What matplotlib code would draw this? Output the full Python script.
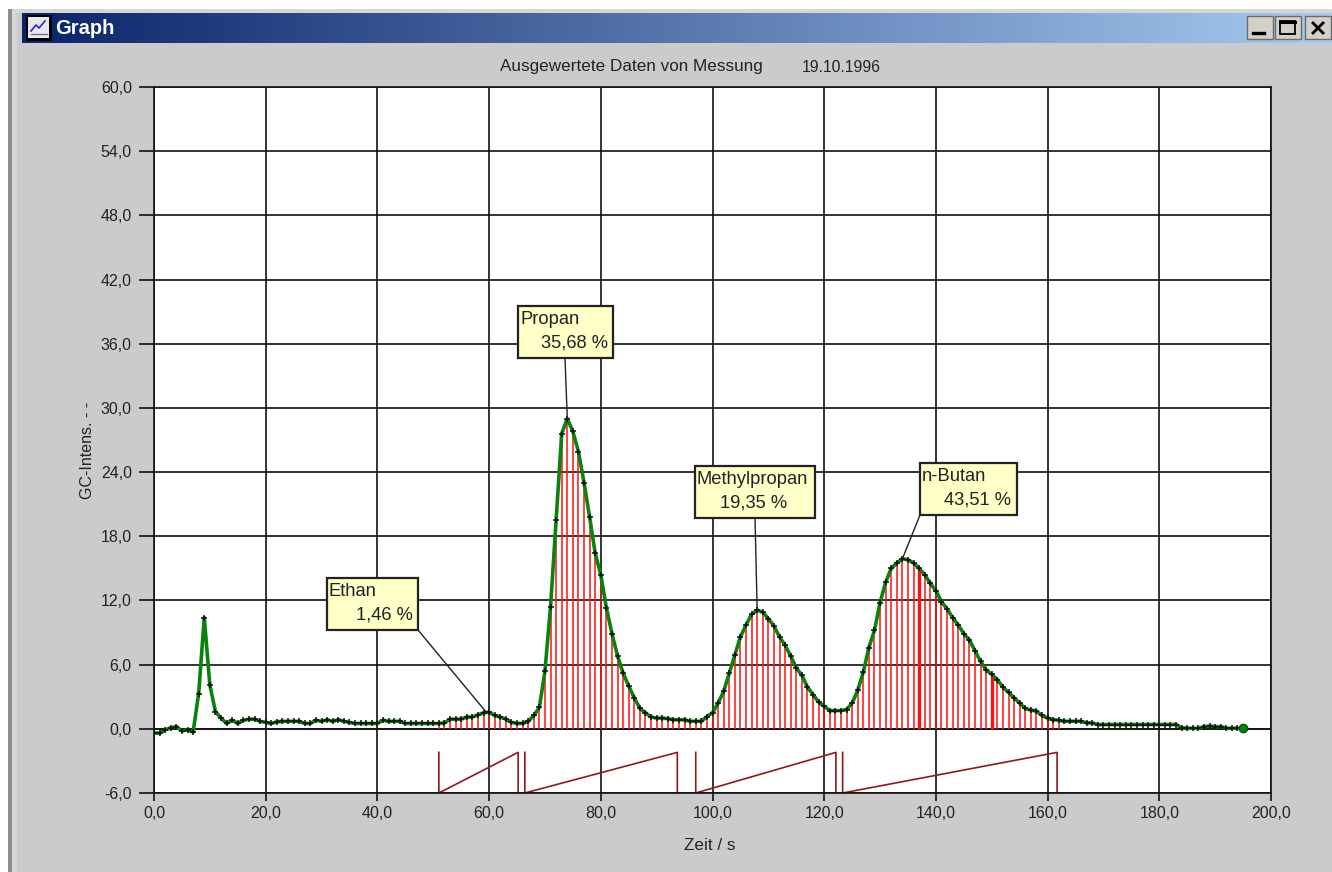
# -*- coding: utf-8 -*-
import matplotlib
matplotlib.use("Agg")
import matplotlib.pyplot as plt
import matplotlib.patches as mpatches
import numpy as np
from matplotlib.ticker import FuncFormatter, MultipleLocator

plt.rcParams['font.family'] = ['Liberation Sans', 'DejaVu Sans']

W, H = 1332, 872

# one sample per second, 0..195
signal = [
    -0.4, -0.4, -0.1, 0.1, 0.2, -0.2, -0.1, -0.3, 3.3, 10.4,
    4.1, 1.6, 1.0, 0.5, 0.8, 0.5, 0.8, 0.9, 0.9, 0.7,
    0.6, 0.5, 0.65, 0.7, 0.7, 0.7, 0.7, 0.5, 0.5, 0.8,
    0.7, 0.85, 0.7, 0.85, 0.7, 0.6, 0.5, 0.5, 0.5, 0.5,
    0.5, 0.8, 0.7, 0.7, 0.7, 0.5, 0.5, 0.5, 0.5, 0.5,
    0.5, 0.5, 0.55, 0.9, 0.9, 0.9, 1.1, 1.1, 1.3, 1.5,
    1.55, 1.25, 1.1, 0.9, 0.6, 0.5, 0.5, 0.7, 1.25, 2.0,
    5.4, 11.4, 19.5, 27.6, 29.0, 27.8, 25.9, 23.0, 19.8, 16.4,
    14.4, 11.3, 8.9, 6.8, 5.2, 4.0, 2.9, 1.9, 1.5, 1.1,
    1.0, 1.0, 0.95, 0.85, 0.85, 0.85, 0.7, 0.7, 0.7, 1.15,
    1.5, 2.4, 3.5, 5.2, 6.9, 8.6, 9.7, 10.7, 11.1, 10.9,
    10.3, 9.6, 8.6, 7.8, 6.8, 5.7, 5.0, 3.9, 3.2, 2.5,
    2.1, 1.7, 1.7, 1.7, 1.8, 2.4, 3.6, 5.3, 7.6, 9.2,
    11.8, 13.7, 15.0, 15.5, 15.9, 15.8, 15.5, 15.0, 14.4, 13.6,
    12.9, 11.9, 11.2, 10.4, 9.7, 8.9, 8.3, 7.3, 6.3, 5.5,
    5.1, 4.6, 3.9, 3.4, 2.9, 2.4, 1.9, 1.75, 1.65, 1.25,
    1.0, 0.85, 0.8, 0.7, 0.7, 0.7, 0.7, 0.55, 0.55, 0.4,
    0.4, 0.4, 0.4, 0.4, 0.4, 0.4, 0.4, 0.4, 0.4, 0.4,
    0.4, 0.4, 0.4, 0.4, 0.1, 0.05, 0.05, 0.05, 0.2, 0.25,
    0.2, 0.2, 0.05, 0.05, 0.05, 0.05,
]
time_s = np.arange(len(signal))

# integrated region and the wider sticks
stick_first, stick_last = 51, 162
thick_sticks = [137, 150]

# integration ramps: start, end
ramp_start = [51.0, 66.4, 97.0, 123.3]
ramp_end = [65.2, 93.7, 122.1, 161.7]
ramp_low, ramp_high = -6.0, -2.2

# label text, percent, peak position, box (px), leader start (px)
peak_names = ["Ethan", "Propan", "Methylpropan", "n-Butan"]
peak_percent = ["1,46 %", "35,68 %", "19,35 %", "43,51 %"]
peak_time = [59.5, 74.0, 108.0, 134.0]
peak_value = [1.55, 29.0, 11.1, 15.9]
box_rects = [(327, 578, 91, 52), (518, 306, 95, 52), (695, 466, 120, 52), (920, 463, 97, 52)]
leader_from = [(418, 630), (565, 358), (755, 518), (920, 515)]
percent_x = [413, 608, 787, 1011]

fig = plt.figure(figsize=(W / 100, H / 100), dpi=100, facecolor="#cccacd")
ax = fig.add_axes([154 / W, (H - 793) / H, (1271 - 154) / W, (793 - 87) / H])

ax.set_xlim(0, 200)
ax.set_ylim(-6, 60)
ax.xaxis.set_major_locator(MultipleLocator(20))
ax.yaxis.set_major_locator(MultipleLocator(6))
comma = FuncFormatter(lambda v, pos: ("%.1f" % v).replace(".", ","))
ax.xaxis.set_major_formatter(comma)
ax.yaxis.set_major_formatter(comma)
ax.tick_params(axis="x", length=6, width=1.2, labelsize=11.5, pad=3, color="#111111", labelcolor="#222222")
ax.tick_params(axis="y", length=11, width=1.2, labelsize=11.5, pad=5, color="#111111", labelcolor="#222222")
ax.grid(True, color="#111111", lw=1.2)
ax.set_axisbelow(True)
for s in ax.spines.values():
    s.set_linewidth(1.2)
    s.set_color("#111111")
ax.axhline(0, color="#111111", lw=1.2, zorder=1)

for t in time_s[stick_first:stick_last + 1]:
    lw = 2.4 if t in thick_sticks else 1.1
    ax.plot([t, t], [0, signal[t]], color="#ff1010", lw=lw, solid_capstyle="butt", zorder=2)

for a, b in zip(ramp_start, ramp_end):
    ax.plot([a, a, b, b], [ramp_high, ramp_low, ramp_high, ramp_low],
            color="#8c1a1f", lw=1.2, zorder=2, clip_on=False)

ax.plot(time_s, signal, color="#0a820f", lw=2.6, zorder=3)
ax.plot(time_s, signal, ls="none", marker="+", ms=4, mew=1.1, color="#111111", zorder=4)
ax.plot(time_s[-1], signal[-1], ls="none", marker="o", ms=6, mfc="#0a820f", mec="#0b4d10", zorder=5)

ax.set_xlabel("Zeit / s", fontsize=12.3, color="#222222")
ax.set_ylabel("GC-Intens. - -", fontsize=11.5, color="#222222")
ax.xaxis.set_label_coords((710 - 154) / 1117, (793 - 845) / 706)
ax.yaxis.set_label_coords((87 - 154) / 1117, (793 - 450) / 706)
ax.xaxis.label.set_verticalalignment("center")
ax.yaxis.label.set_verticalalignment("center")

# overlay in pixel coordinates for the window frame and label boxes
px = fig.add_axes([0, 0, 1, 1], zorder=5)
px.set_xlim(0, W)
px.set_ylim(H, 0)
px.axis("off")

px.add_patch(mpatches.Rectangle((0, 0), W, 9, fc="white", ec="none"))
px.add_patch(mpatches.Rectangle((0, 0), 8, H, fc="white", ec="none"))
px.add_patch(mpatches.Rectangle((8, 9), 4, H, fc="#8f8d90", ec="none"))
px.add_patch(mpatches.Rectangle((12, 9), 5, H, fc="#d8d6d6", ec="none"))
px.add_patch(mpatches.Rectangle((17, 9), W, 4, fc="#d8d6d2", ec="none"))

gradient = np.linspace(0, 1, 256)[None, :, None]
dark = np.array([10, 36, 106]) / 255
light = np.array([166, 202, 240]) / 255
px.imshow(dark + gradient * (light - dark), extent=(22, W, 43, 13), aspect="auto", zorder=1)
px.set_xlim(0, W)
px.set_ylim(H, 0)
px.text(55, 28, "Graph", color="white", fontsize=14.5, fontweight="bold", va="center", zorder=3)

# title bar icon
px.add_patch(mpatches.Rectangle((26, 15), 26, 26, fc="black", ec="none", zorder=2))
px.add_patch(mpatches.Rectangle((28, 17), 21, 21, fc="#e8e8ee", ec="none", zorder=3))
px.plot([31, 36, 39, 45], [31, 25, 28, 21], color="#2a2ae0", lw=1.2, zorder=4)
px.plot([31, 47], [34, 34], color="#777777", lw=1.0, zorder=4)

# window buttons
for x0 in [1247, 1275, 1305]:
    px.add_patch(mpatches.Rectangle((x0, 16), 26, 23, fc="#d4d0c8", ec="#6b6b6b", lw=1.0, zorder=2))
px.plot([1253, 1264], [33, 33], color="black", lw=2.4, zorder=3)
px.add_patch(mpatches.Rectangle((1280, 21), 15, 13, fc="none", ec="black", lw=1.3, zorder=3))
px.plot([1280, 1295], [22, 22], color="black", lw=2.2, zorder=3)
px.plot([1313, 1323], [23, 33], color="black", lw=2.0, zorder=3)
px.plot([1313, 1323], [33, 23], color="black", lw=2.0, zorder=3)

px.text(500, 67, "Ausgewertete Daten von Messung", fontsize=12.3, color="#222222", va="center", zorder=3)
px.text(802, 67, "19.10.1996", fontsize=11.3, color="#222222", va="center", zorder=3)

for i, name in enumerate(peak_names):
    x0, y0, w, h = box_rects[i]
    ax.annotate("", xy=(peak_time[i], peak_value[i]), xytext=leader_from[i], textcoords=px.transData,
                arrowprops=dict(arrowstyle="-", color="#222222", lw=1.0, shrinkA=0, shrinkB=0),
                zorder=6, annotation_clip=False)
    px.add_patch(mpatches.Rectangle((x0, y0), w, h, fc="#ffffc8", ec="#222222", lw=1.6, zorder=3))
    px.text(x0 + 2, y0 + 13, name, fontsize=13.2, color="#222222", va="center", zorder=4)
    px.text(percent_x[i], y0 + 37, peak_percent[i], fontsize=13.2, color="#222222", va="center", ha="right", zorder=4)

fig.savefig("out.png", dpi=100, facecolor=fig.get_facecolor())
